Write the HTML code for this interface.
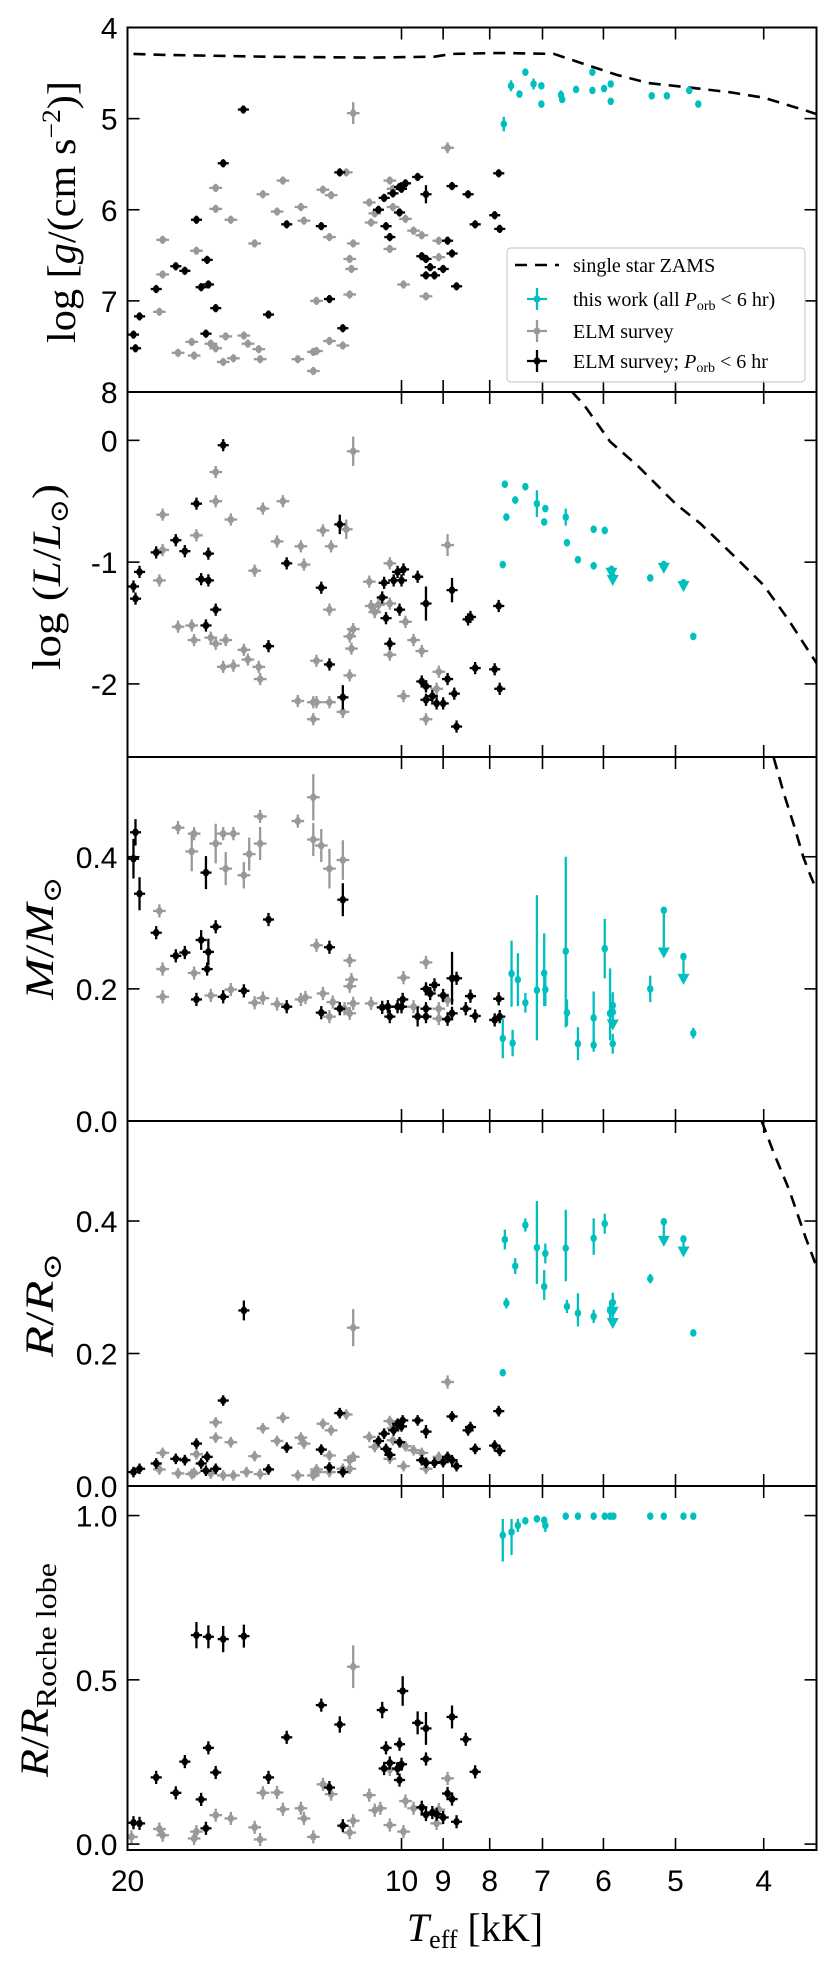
<!DOCTYPE html>
<html><head><meta charset="utf-8"><title>ELM comparison</title>
<style>
html,body{margin:0;padding:0;background:#fff;}
svg{display:block;}
.tl{font-family:"Liberation Sans",Arial,sans-serif;font-size:30px;fill:#000;}
.ti{font-family:"Liberation Serif","DejaVu Serif",serif;font-size:40px;fill:#000;}
.lg{font-family:"Liberation Serif","DejaVu Serif",serif;font-size:20px;fill:#000;}
</style></head>
<body>
<svg id="fig" xmlns="http://www.w3.org/2000/svg" width="831" height="1961" viewBox="0 0 831 1961"></svg>
<script>
// ---------- data ----------
const xTicks=[10,9,8,7,6,5,4];
const xTickLabels=['10','9','8','7','6','5','4'];
const xEdgeLabel='20';

// Panel 1: log g
const loggTicks=[4,5,6,7,8];
const loggZams=[[19.7,4.29],[18.4,4.30],[14.1,4.32],[10.8,4.33],[9.2,4.32],[8.8,4.29],[7.82,4.28],[6.8,4.29],[6.3,4.40],[5.8,4.52],[5.35,4.61],[4.82,4.66],[4.36,4.71],[4.0,4.77],[3.6,4.91],[3.5,4.95]];
const loggCyan=[[7.72,5.06,0.08],[7.58,4.64,0.06],[7.42,4.73,0.03],[7.31,4.49,0.03],[7.16,4.62,0.06],[7.02,4.64,0.03],[7.02,4.84,0.03],[6.68,4.74,0.05],[6.66,4.79,0.03],[6.43,4.68,0.03],[6.17,4.49,0.03],[6.17,4.69,0.03],[5.99,4.67,0.03],[5.89,4.62,0.03],[5.89,4.81,0.03],[5.31,4.75,0.03],[5.11,4.75,0.03],[4.83,4.69,0.03],[4.72,4.84,0.03]];
const loggBlack=[[14.92,4.90],[15.7,5.49],[11.69,5.59],[9.6,5.64],[9.9,5.71],[10.05,5.75],[10.0,5.77],[10.22,5.82],[10.45,5.87],[8.8,5.74],[9.4,5.83,0.1],[8.45,5.83],[10.6,6.00],[10.05,6.03],[7.9,6.06],[16.8,6.11],[13.37,6.16],[12.25,6.18],[10.4,6.18],[8.3,6.16],[7.8,6.21],[7.82,5.60],[10.3,6.30],[8.9,6.34],[9.5,6.51],[9.4,6.54],[8.8,6.48],[9.3,6.63],[9.0,6.65],[9.2,6.72],[9.4,6.72],[8.7,6.84],[17.7,6.62],[17.3,6.67],[16.35,6.55],[16.6,6.85],[16.3,6.82],[18.6,6.87],[16.0,7.08],[19.4,7.17],[19.7,7.37],[19.6,7.52],[16.4,7.36],[14.0,7.15],[12.0,6.98],[11.6,7.30]];
const loggGray=[[11.3,4.94,0.12],[8.9,5.32,0.06],[11.5,5.59],[13.5,5.68],[16.0,5.76],[12.2,5.78],[11.95,5.84],[14.2,5.83],[10.3,5.68],[10.22,5.77],[16.0,5.99],[13.7,6.02],[12.9,5.97],[15.4,6.11],[12.8,6.12],[12.0,6.30],[10.85,5.92],[10.7,6.04],[10.8,6.14],[10.22,5.97],[9.9,6.10],[9.7,6.23],[9.5,6.28],[9.1,6.34],[10.3,6.43],[9.1,6.52],[18.3,6.33],[16.8,6.45],[14.5,6.37],[11.3,6.37],[11.4,6.54],[11.35,6.65],[9.95,6.82],[9.4,6.95],[11.4,6.93],[18.3,6.71],[18.45,7.12],[12.4,7.00],[17.6,7.57],[17.0,7.45],[16.9,7.60],[16.2,7.47],[16.0,7.52],[15.6,7.39],[15.7,7.67],[15.3,7.63],[14.9,7.38],[14.75,7.47],[14.35,7.53],[14.3,7.64],[13.0,7.64],[12.5,7.56],[12.4,7.55],[12.5,7.77],[12.0,7.44],[11.6,7.49]];

// Panel 2: log L
const lumTicks=[0,-1,-2];
const lumZams=[[6.5,0.40],[6.3,0.29],[5.9,-0.01],[5.5,-0.21],[5.0,-0.52],[4.7,-0.68],[4.27,-0.98],[4.0,-1.19],[3.76,-1.47],[3.5,-1.83]];
const lumCyan=[[7.7,-0.36,0.03],[7.67,-0.63,0.03],[7.5,-0.49,0.03],[7.31,-0.38,0.03],[7.1,-0.52,0.11],[6.95,-0.56,0.03],[6.97,-0.67,0.03],[6.6,-0.63,0.07],[6.58,-0.84,0.03],[6.4,-0.98,0.03],[6.15,-0.73,0.03],[6.15,-1.03,0.03],[5.98,-0.74,0.03],[5.88,-1.06,0.03,0.06],[5.86,-1.12,0.03,0.06],[5.33,-1.13,0.03],[5.15,-1.02,0.03,0.06],[4.9,-1.17,0.03,0.06],[4.78,-1.61,0.03],[7.74,-1.02,0.03]];
const lumBlack=[[15.7,-0.04],[16.8,-0.52],[17.7,-0.82],[18.6,-0.92],[17.3,-0.91],[16.3,-0.93],[16.6,-1.14],[16.3,-1.15],[19.4,-1.08],[19.7,-1.2],[19.6,-1.3],[16.0,-1.39],[16.4,-1.52],[14.0,-1.69],[13.37,-1.01],[12.25,-1.21],[11.69,-0.69,0.08],[12.0,-1.84],[11.6,-2.11,0.1],[9.95,-1.06],[10.1,-1.08],[10.2,-1.15],[10.0,-1.15],[10.45,-1.17],[9.6,-1.12],[8.8,-1.23,0.1],[10.5,-1.29],[10.05,-1.39],[10.4,-1.46],[9.4,-1.34,0.14],[10.3,-1.67],[8.45,-1.47],[8.4,-1.45],[7.82,-1.36],[8.3,-1.87],[7.9,-1.88],[7.8,-2.04],[9.5,-1.98],[9.4,-2.02],[8.9,-1.96],[8.75,-2.08],[9.4,-2.13],[9.25,-2.10],[9.15,-2.16],[9.0,-2.16],[8.7,-2.35]];
const lumGray=[[11.3,-0.09,0.12],[16.0,-0.26],[16.0,-0.50],[18.3,-0.61],[14.2,-0.56],[13.5,-0.50],[15.4,-0.65],[16.8,-0.78],[18.3,-0.90],[13.7,-0.83],[12.9,-0.87],[12.2,-0.74],[11.95,-0.87],[11.5,-0.73,0.08],[8.9,-0.86,0.09],[12.8,-1.02],[14.5,-1.07],[18.45,-1.15],[10.3,-1.01],[10.85,-1.16],[10.8,-1.36],[10.6,-1.35],[10.3,-1.34],[10.7,-1.41],[12.0,-1.39],[9.9,-1.49],[11.3,-1.55],[11.4,-1.61],[11.35,-1.71],[9.7,-1.64],[9.5,-1.73],[10.3,-1.76],[9.1,-1.9],[9.15,-2.04],[9.95,-2.1],[9.4,-2.29],[11.4,-1.93],[12.4,-1.81],[17.6,-1.53],[17.0,-1.52],[16.9,-1.64],[16.2,-1.62],[16.0,-1.67],[15.6,-1.64],[15.7,-1.86],[15.3,-1.85],[14.9,-1.72],[14.75,-1.80],[14.35,-1.86],[14.3,-1.96],[13.0,-2.14],[12.5,-2.15],[12.4,-2.15],[12.0,-2.15],[11.6,-2.23],[12.5,-2.29]];

// Panel 3: mass
const massTicks=[0.0,0.2,0.4];
const massTickLabels=['0.0','0.2','0.4'];
const massZams=[[3.9,0.55],[3.8,0.495],[3.7,0.445],[3.62,0.40],[3.55,0.37],[3.5,0.35]];
const massCyan=[[7.74,0.125,0.03],[7.55,0.118,0.02],[7.57,0.223,0.05],[7.45,0.214,0.04],[7.31,0.179,0.015],[7.1,0.198,[0.076,0.144]],[6.95,0.199,0.025],[6.97,0.224,[0.05,0.06]],[6.6,0.257,[0.115,0.143]],[6.58,0.164,0.02],[6.4,0.117,0.025],[6.15,0.115,0.01],[6.15,0.156,[0.044,0.04]],[5.98,0.261,0.045],[5.9,0.163,[0.041,0.068]],[5.86,0.175,0.02],[5.86,0.117,0.015],[5.86,0.165,0,0.025],[5.33,0.2,0.02],[5.15,0.319,0,0.07],[4.9,0.249,0,0.04],[4.78,0.133,0.008]];
const massBlack=[[19.6,0.437,0.02],[19.7,0.397,0.03],[19.4,0.344,0.025],[18.6,0.285],[17.7,0.25],[17.3,0.255],[16.6,0.274,0.015],[16.3,0.256,0.02],[16.35,0.230],[16.0,0.294],[16.4,0.376,0.025],[14.0,0.305],[11.6,0.335,0.025],[12.0,0.263],[16.8,0.184],[15.7,0.188],[14.9,0.197],[13.37,0.173],[12.25,0.164],[11.69,0.170],[10.5,0.172],[10.35,0.173],[10.3,0.158],[10.1,0.173],[10.0,0.173],[9.97,0.184],[9.6,0.158,0.015],[9.4,0.158],[9.4,0.17],[9.4,0.2],[9.3,0.193],[9.2,0.206],[9.0,0.19],[8.8,0.216,0.04],[8.7,0.216],[8.9,0.154],[8.8,0.163],[8.5,0.17],[8.4,0.189],[8.3,0.159],[7.9,0.153],[7.82,0.185],[7.8,0.158]];
const massGray=[[12.5,0.49,0.035],[13.0,0.454],[14.3,0.461],[17.6,0.444],[16.9,0.435],[15.7,0.435],[15.3,0.435],[14.3,0.42,0.025],[16.0,0.42,0.03],[17.0,0.408,0.03],[14.7,0.404,0.025],[12.5,0.426,0.025],[12.25,0.417,0.025],[12.0,0.382,0.03],[11.6,0.395,0.03],[15.6,0.382,0.025],[14.9,0.372,0.02],[18.45,0.318],[12.4,0.266],[11.4,0.243],[18.3,0.230],[16.9,0.224],[11.35,0.214],[11.4,0.204],[9.4,0.24],[9.95,0.217],[18.3,0.188],[16.2,0.19],[15.4,0.199],[14.5,0.179],[14.2,0.186],[13.7,0.177],[12.9,0.184],[12.75,0.187],[12.2,0.193],[12.0,0.158],[11.9,0.18],[11.4,0.163],[11.3,0.178],[10.8,0.178],[9.7,0.173],[9.1,0.17],[9.1,0.155],[8.9,0.183],[11.55,0.17]];

// Panel 4: radius
const radTicks=[0.0,0.2,0.4];
const radTickLabels=['0.0','0.2','0.4'];
const radZams=[[4.02,0.551],[3.9,0.503],[3.75,0.447],[3.6,0.376],[3.5,0.331]];
const radCyan=[[7.7,0.372,0.015],[7.67,0.276,0.008],[7.5,0.332,0.012],[7.31,0.394,0.01],[7.1,0.36,[0.055,0.07]],[6.95,0.351,0.015],[6.97,0.301,[0.02,0.025]],[6.6,0.359,[0.05,0.058]],[6.58,0.271,0.01],[6.4,0.261,[0.02,0.03]],[6.15,0.374,[0.025,0.03]],[6.15,0.256,0.01],[5.98,0.396,0.015],[5.9,0.265,0.015],[5.86,0.277,0.015,0.02],[5.86,0.265,0,0.025],[5.33,0.313,0.007],[5.15,0.399,0,0.035],[4.9,0.373,0,0.025],[4.78,0.231,0.004],[7.74,0.171,0.003]];
const radBlack=[[14.9,0.265,0.015],[15.7,0.129],[11.69,0.11],[9.97,0.099],[9.6,0.099],[10.1,0.094],[10.0,0.09],[10.2,0.084],[10.45,0.079],[8.8,0.105],[9.4,0.082,0.01],[8.45,0.084],[8.4,0.089],[7.82,0.113],[10.6,0.068],[10.05,0.066],[10.4,0.056],[10.3,0.047],[7.9,0.061],[7.8,0.053],[8.3,0.056],[13.37,0.058],[12.25,0.055],[16.8,0.064],[17.7,0.041],[17.3,0.039],[16.35,0.044],[16.6,0.034],[16.4,0.023],[16.0,0.026],[18.6,0.034],[19.4,0.026],[19.7,0.021],[14.0,0.025],[12.0,0.028],[11.6,0.021],[9.5,0.039],[9.4,0.035],[9.2,0.035],[9.0,0.036],[8.9,0.044],[8.8,0.039],[8.7,0.03]];
const radGray=[[11.3,0.239,0.028],[8.9,0.157,0.01],[11.5,0.108],[13.5,0.103],[16.0,0.096],[14.2,0.087],[12.2,0.094],[11.95,0.084],[10.3,0.098],[10.22,0.087],[16.0,0.073],[15.4,0.066],[13.7,0.068],[12.9,0.073],[12.8,0.064],[10.85,0.074],[10.7,0.059],[10.22,0.069],[9.9,0.06],[9.7,0.054],[9.5,0.05],[9.1,0.044],[18.3,0.05],[16.8,0.048],[14.5,0.045],[11.3,0.044],[11.4,0.039],[12.0,0.046],[10.3,0.041],[9.95,0.03],[9.4,0.026],[11.4,0.026],[18.45,0.025],[12.4,0.025],[17.6,0.019],[17.0,0.018],[16.9,0.02],[16.2,0.019],[15.7,0.016],[15.3,0.016],[14.8,0.021],[14.3,0.018],[13.0,0.016],[12.5,0.016],[12.4,0.021],[12.0,0.021],[11.6,0.026]];

// Panel 5: R / R_Roche
const rocheTicks=[0.0,0.5,1.0];
const rocheTickLabels=['0.0','0.5','1.0'];
const rocheCyan=[[7.74,0.94,[0.08,0.05]],[7.57,0.95,[0.07,0.04]],[7.45,0.97,0.02],[7.31,0.984,0.01],[7.1,0.99,0.005],[6.97,0.986,0.01],[6.95,0.97,0.02],[6.6,0.998,0],[6.4,0.998,0],[6.15,0.998,0],[5.98,0.998,0],[5.9,0.998,0],[5.85,0.998,0],[5.33,0.998,0],[5.15,0.998,0],[4.9,0.998,0],[4.78,0.998,0]];
const rocheBlack=[[16.8,0.636,0.04],[16.3,0.631,0.035],[15.7,0.624,0.04],[14.9,0.633,0.035],[9.97,0.466,0.045],[12.25,0.423],[10.5,0.408,0.025],[11.69,0.364,0.025],[9.6,0.369,0.035],[9.4,0.352,0.05],[8.8,0.387,0.035],[13.37,0.325],[8.5,0.319],[10.4,0.293],[10.05,0.304],[16.3,0.293],[9.4,0.259],[17.3,0.251],[10.3,0.247],[10.0,0.243],[10.45,0.23],[10.1,0.23],[16.0,0.218],[8.3,0.22],[18.6,0.203],[14.0,0.203],[10.05,0.195],[12.0,0.172],[17.7,0.156],[8.9,0.154],[8.8,0.137],[16.6,0.136],[9.5,0.112],[9.4,0.09],[9.25,0.096],[9.15,0.091],[9.0,0.081],[8.7,0.068],[11.6,0.056],[16.4,0.048],[19.7,0.065],[19.4,0.063]];
const rocheGray=[[11.3,0.54,0.065],[8.9,0.2],[12.2,0.182],[11.95,0.152],[14.2,0.156],[13.7,0.157],[10.85,0.149],[10.3,0.227],[9.9,0.131],[12.9,0.109],[13.5,0.106],[10.7,0.103],[10.55,0.109],[9.7,0.109],[9.1,0.105],[16.0,0.088],[15.4,0.078],[12.8,0.078],[11.3,0.071],[14.5,0.051],[10.3,0.058],[9.15,0.063],[18.45,0.046],[18.3,0.027],[16.8,0.038],[16.9,0.017],[14.3,0.014],[12.5,0.022],[11.4,0.035],[9.95,0.038],[19.8,0.022]];

// ---------- drawing ----------
const NS='http://www.w3.org/2000/svg';
const svg=document.getElementById('fig');
const X0=127.5, X1=816.5, TMAX=20, TMIN=3.5;
function xs(t){return X0+(Math.log10(TMAX)-Math.log10(t))/(Math.log10(TMAX)-Math.log10(TMIN))*(X1-X0);}
function mk(tag,attrs,parent){const e=document.createElementNS(NS,tag);for(const k in attrs)e.setAttribute(k,attrs[k]);(parent||svg).appendChild(e);return e;}
const GRAY='#999999', BLACK='#000000', CYAN='#00bfbf';

const panels=[
 {key:'logg',top:27.5,bot:392,v0:4,v1:8,ticks:loggTicks,labels:loggTicks.map(String),zams:loggZams,cyan:loggCyan,black:loggBlack,gray:loggGray,err:0.045},
 {key:'lum',top:392,bot:757,v0:0.397,v1:-2.6,ticks:lumTicks,labels:lumTicks.map(String),zams:lumZams,cyan:lumCyan,black:lumBlack,gray:lumGray,err:0.05},
 {key:'mass',top:757,bot:1121,v0:0.551,v1:0,ticks:massTicks,labels:massTickLabels,zams:massZams,cyan:massCyan,black:massBlack,gray:massGray,err:0.01},
 {key:'radius',top:1121,bot:1486,v0:0.551,v1:0,ticks:radTicks,labels:radTickLabels,zams:radZams,cyan:radCyan,black:radBlack,gray:radGray,err:0.008},
 {key:'roche',top:1486,bot:1850,v0:1.09,v1:-0.018,ticks:rocheTicks,labels:rocheTickLabels,zams:null,cyan:rocheCyan,black:rocheBlack,gray:rocheGray,err:0.02}
];

const defs=mk('defs',{});
panels.forEach((p,i)=>{
  const cp=mk('clipPath',{id:'clip'+i},defs);
  mk('rect',{x:X0,y:p.top,width:X1-X0,height:p.bot-p.top},cp);
});

function drawStar(g,p,d,color,r,xfrac,ys){
  const x=xs(d[0]), y=ys(d[1]);
  const e=d.length>2?d[2]:p.err;
  let lo,hi; if(Array.isArray(e)){lo=e[0];hi=e[1];}else{lo=e;hi=e;}
  const grp=mk('g',{},g);
  
  
  if(xfrac>0){
    mk('line',{x1:xs(d[0]*(1+xfrac)),x2:xs(d[0]*(1-xfrac)),y1:y,y2:y,stroke:color,'stroke-width':2.3},grp);
  }
  if(lo>0||hi>0){
    mk('line',{x1:x,x2:x,y1:ys(d[1]+hi),y2:ys(d[1]-lo),stroke:color,'stroke-width':2.3},grp);
  }
  if(d.length>3 && d[3]>0){
    const ye=ys(d[1]-d[3]);
    mk('line',{x1:x,x2:x,y1:y,y2:ye-4,stroke:color,'stroke-width':2.3},grp);
    mk('path',{d:`M${x-6},${ye-9}L${x+6},${ye-9}L${x},${ye+2}Z`,fill:color},grp);
  }
  mk('ellipse',{cx:x,cy:y,rx:r*0.85,ry:r,fill:color},grp);
}

panels.forEach((p,i)=>{
  const ys=v=>p.top+(v-p.v0)/(p.v1-p.v0)*(p.bot-p.top);
  const pg=mk('g',{});
  
  
  const plot=mk('g',{'clip-path':`url(#clip${i})`},pg);
  
  
  if(p.zams){
    const pts=p.zams.map(d=>xs(d[0]).toFixed(1)+','+ys(d[1]).toFixed(1)).join(' ');
    const zl=mk('polyline',{points:pts,fill:'none',stroke:'#000','stroke-width':2.6,'stroke-dasharray':'12 8'},plot);
    
    
  }
  const gg=mk('g',{},plot);
  
  
  p.gray.forEach(d=>drawStar(gg,p,d,GRAY,3.8,0.016,ys));
  const gb=mk('g',{},plot);
  
  
  p.black.forEach(d=>drawStar(gb,p,d,BLACK,3.8,0.014,ys));
  const gc=mk('g',{},plot);
  
  
  p.cyan.forEach(d=>drawStar(gc,p,d,CYAN,3.8,0,ys));
  // frame
  const fr=mk('rect',{x:X0,y:p.top,width:X1-X0,height:p.bot-p.top,fill:'none',stroke:'#000','stroke-width':2},pg);
  
  
  // x ticks
  xTicks.forEach(t=>{
    const x=xs(t);
    mk('line',{x1:x,x2:x,y1:p.top,y2:p.top+12,stroke:'#000','stroke-width':1.6},pg);
    mk('line',{x1:x,x2:x,y1:p.bot,y2:p.bot-12,stroke:'#000','stroke-width':1.6},pg);
  });
  // y ticks
  p.ticks.forEach((v,j)=>{
    const y=ys(v);
    mk('line',{x1:X0,x2:X0+12,y1:y,y2:y,stroke:'#000','stroke-width':1.6},pg);
    mk('line',{x1:X1,x2:X1-12,y1:y,y2:y,stroke:'#000','stroke-width':1.6},pg);
    const tx=mk('text',{x:X0-10,y:y+11,'text-anchor':'end',class:'tl'},pg);
    
    
    tx.textContent=p.labels[j];
  });
});

// x tick labels
xTickLabels.forEach((s,j)=>{
  const t=mk('text',{x:xs(xTicks[j]),y:1891,'text-anchor':'middle',class:'tl'});
  
  
  t.textContent=s;
});
const t20=mk('text',{x:X0,y:1891,'text-anchor':'middle',class:'tl'});


t20.textContent=xEdgeLabel;
</script>

<svg style="position:absolute;left:0;top:0" width="831" height="1961" xmlns="http://www.w3.org/2000/svg">
  <text class="ti" x="475" y="1941" text-anchor="middle"><tspan font-style="italic">T</tspan><tspan font-size="26" dy="7">eff</tspan><tspan dy="-7"> [kK]</tspan></text>
  <text class="ti" transform="translate(75,212) rotate(-90)" text-anchor="middle" textLength="262" lengthAdjust="spacingAndGlyphs">log [<tspan font-style="italic">g</tspan>/(cm s<tspan font-size="26" dy="-15">−2</tspan><tspan dy="15">)]</tspan></text>
  <text class="ti" transform="translate(60,577) rotate(-90)" text-anchor="middle" textLength="186" lengthAdjust="spacingAndGlyphs">log (<tspan font-style="italic">L</tspan>/<tspan font-style="italic">L</tspan><tspan font-size="26" dy="8">⊙</tspan><tspan dy="-8">)</tspan></text>
  <text class="ti" transform="translate(53,938) rotate(-90)" text-anchor="middle" textLength="123" lengthAdjust="spacingAndGlyphs"><tspan font-style="italic">M</tspan>/<tspan font-style="italic">M</tspan><tspan font-size="26" dy="8">⊙</tspan></text>
  <text class="ti" transform="translate(53,1305) rotate(-90)" text-anchor="middle" textLength="104" lengthAdjust="spacingAndGlyphs"><tspan font-style="italic">R</tspan>/<tspan font-style="italic">R</tspan><tspan font-size="26" dy="8">⊙</tspan></text>
  <text class="ti" transform="translate(48,1670) rotate(-90)" text-anchor="middle" textLength="214" lengthAdjust="spacingAndGlyphs"><tspan font-style="italic">R</tspan>/<tspan font-style="italic">R</tspan><tspan font-size="28" dy="8">Roche lobe</tspan></text>

  <g>
    <rect x="507" y="248" width="298" height="134" rx="4" fill="#ffffff" fill-opacity="0.85" stroke="#cccccc" stroke-width="1.2"/>
    <g>
      <line x1="515" x2="559" y1="265" y2="265" stroke="#000" stroke-width="2.6" stroke-dasharray="12 8"/>
      <text class="lg" x="573" y="272">single star ZAMS</text>
    </g>
    <g>
      <line x1="537" x2="537" y1="288" y2="310" stroke="#00bfbf" stroke-width="2.3"/>
      <line x1="527" x2="547" y1="299" y2="299" stroke="#00bfbf" stroke-width="2.3"/>
      <ellipse cx="537" cy="299" rx="3.3" ry="3.8" fill="#00bfbf"/>
      <text class="lg" x="573" y="306">this work (all <tspan font-style="italic">P</tspan><tspan font-size="14" dy="4">orb</tspan><tspan dy="-4"> &lt; 6 hr)</tspan></text>
    </g>
    <g>
      <line x1="537" x2="537" y1="320" y2="342" stroke="#999" stroke-width="2.3"/>
      <line x1="527" x2="547" y1="331" y2="331" stroke="#999" stroke-width="2.3"/>
      <ellipse cx="537" cy="331" rx="3.3" ry="3.8" fill="#999"/>
      <text class="lg" x="573" y="338">ELM survey</text>
    </g>
    <g>
      <line x1="537" x2="537" y1="350" y2="372" stroke="#000" stroke-width="2.3"/>
      <line x1="527" x2="547" y1="361" y2="361" stroke="#000" stroke-width="2.3"/>
      <ellipse cx="537" cy="361" rx="3.3" ry="3.8" fill="#000"/>
      <text class="lg" x="573" y="368">ELM survey;  <tspan font-style="italic">P</tspan><tspan font-size="14" dy="4">orb</tspan><tspan dy="-4"> &lt; 6 hr</tspan></text>
    </g>
  </g>
</svg>
</body></html>
